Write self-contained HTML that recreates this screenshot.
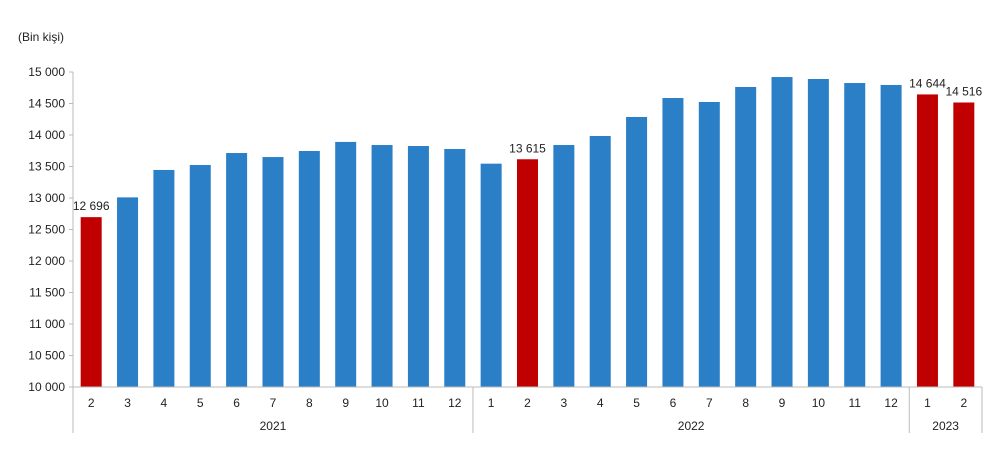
<!DOCTYPE html>
<html><head><meta charset="utf-8"><style>
body{margin:0;background:#fff;}
svg{display:block;font-family:"Liberation Sans",sans-serif;}
</style></head><body>
<svg id="c" width="1000" height="471">
<text x="18" y="41" font-size="12" fill="#222">(Bin kişi)</text>
<g id="g"></g>
</svg>
<script>
const months=["2","3","4","5","6","7","8","9","10","11","12","1","2","3","4","5","6","7","8","9","10","11","12","1","2"];
const values=[12696,13010,13445,13524,13714,13650,13746,13890,13841,13825,13778,13545,13615,13841,13984,14286,14587,14524,14762,14920,14889,14825,14794,14644,14516];
const highlighted=[0,12,23,24];
const yTicks=[10000,10500,11000,11500,12000,12500,13000,13500,14000,14500,15000];
const years=[{label:"2021",start:0,end:11},{label:"2022",start:11,end:23},{label:"2023",start:23,end:25}];
const NS="http://www.w3.org/2000/svg";
const g=document.getElementById('g');
const x0=73,x1=982,yB=387,yT=72;
const slot=(x1-x0)/months.length;
const y=v=>yB-(v-10000)/(15000-10000)*(yB-yT);
const xc=i=>x0+slot*(i+0.5);
const fmt=v=>String(v).replace(/\B(?=(\d{3})+(?!\d))/g," ");
function mk(t,a){const e=document.createElementNS(NS,t);for(const k in a)e.setAttribute(k,a[k]);g.appendChild(e);return e;}
yTicks.forEach(t=>{
  const l=mk('line',{x1:69,x2:x0,y1:y(t),y2:y(t),stroke:'#bbb'});
  
  
  const tx=mk('text',{x:65,y:y(t)+4,'text-anchor':'end','font-size':12,fill:'#222'});
  tx.textContent=fmt(t);
  
  
});
values.forEach((v,i)=>{
  const red=highlighted.includes(i);
  const r=mk('rect',{x:xc(i)-10.5,y:y(v),width:21,height:yB-y(v),fill:red?'#c00000':'#2a7fc6'});
  
  
  if(red){
    const t=mk('text',{x:xc(i),y:y(v)-7,'text-anchor':'middle','font-size':12,fill:'#222'});
    t.textContent=fmt(v);
    
    
  }
  const m=mk('text',{x:xc(i),y:407,'text-anchor':'middle','font-size':12,fill:'#222'});
  m.textContent=months[i];
  
  
});
const ya=mk('line',{x1:x0,x2:x0,y1:yT,y2:yB,stroke:'#bbb'});


const xa=mk('line',{x1:x0,x2:x1,y1:yB,y2:yB,stroke:'#bbb'});


years.forEach((yr,k)=>{
  const xs=x0+slot*yr.start, xe=x0+slot*yr.end;
  const s=mk('line',{x1:xs,x2:xs,y1:yB,y2:433,stroke:'#bbb'});
  
  
  if(k===years.length-1){
    const e=mk('line',{x1:xe,x2:xe,y1:yB,y2:433,stroke:'#bbb'});
    
    
  }
  const t=mk('text',{x:(xs+xe)/2,y:430,'text-anchor':'middle','font-size':12,fill:'#222'});
  t.textContent=yr.label;
  
  
});
</script>
</body></html>
